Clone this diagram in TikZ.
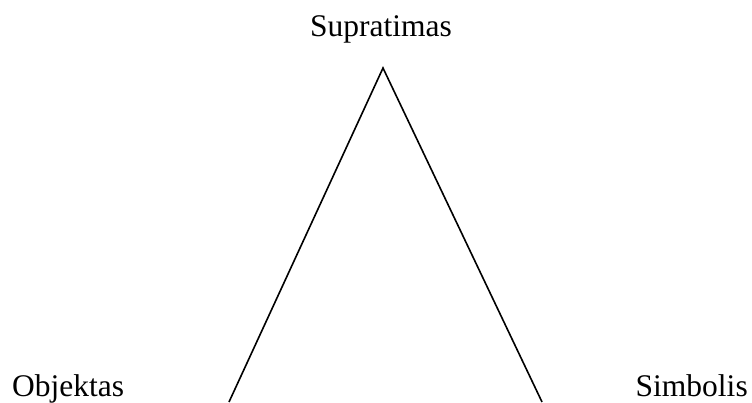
\documentclass[tikz,border=0pt]{standalone}
\usepackage{fontspec}
\setmainfont{Liberation Serif}
\begin{document}
\begin{tikzpicture}[x=1pt,y=1pt,
  lbl/.style={inner sep=0pt,font=\fontsize{31.5}{38}\selectfont},
  edge/.style={line width=1.6pt,line cap=butt}]
\useasboundingbox (0,0) rectangle (752,402);
\node[lbl,anchor=base] (sup) at (381,365) {Supratimas};
\node[lbl,anchor=base west] (obj) at (12,6) {Objektas};
\node[lbl,anchor=base west] (sim) at (635.5,6) {Simbolis};
\coordinate (apex) at (383,334);
\coordinate (lend) at (229,0);
\coordinate (rend) at (542,0);
\draw[edge] (lend) -- (apex) -- (rend);
\end{tikzpicture}
\end{document}
